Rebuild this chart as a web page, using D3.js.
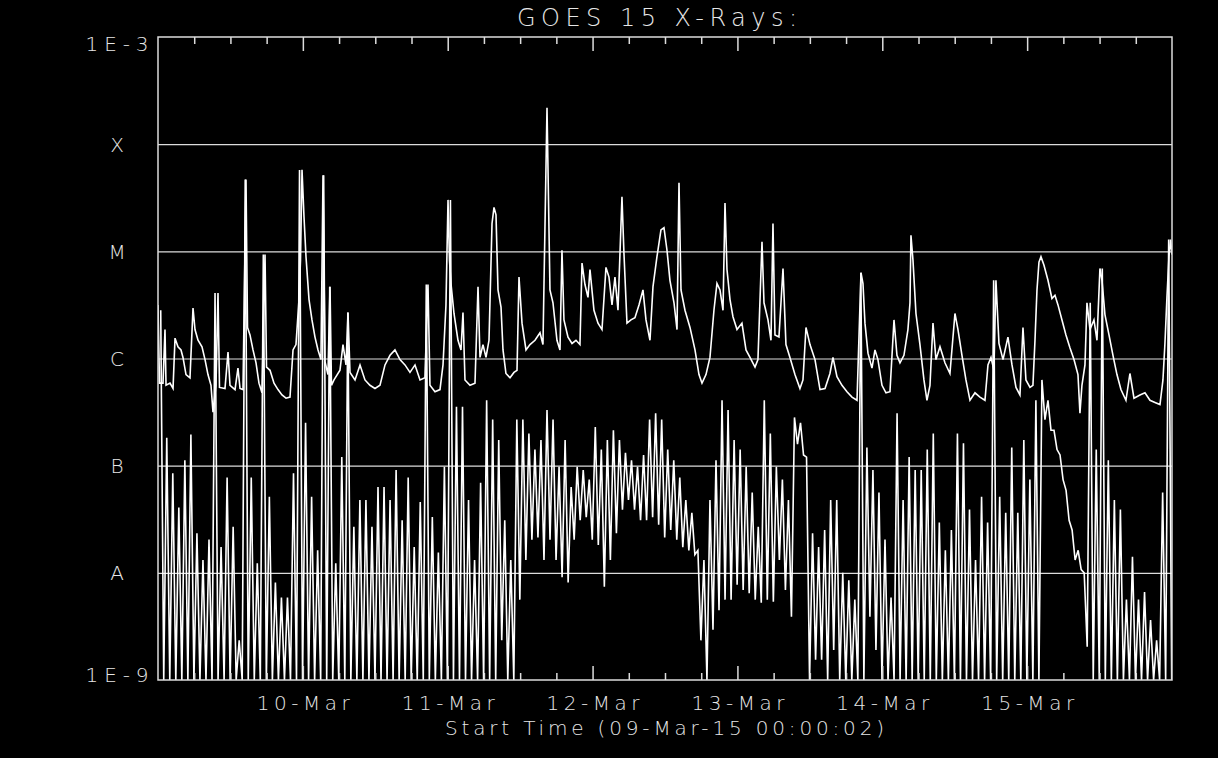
<!DOCTYPE html>
<html>
<head>
<meta charset="utf-8">
<title>GOES 15 X-Rays</title>
<script src="https://cdn.jsdelivr.net/npm/d3@7"></script>
<style>
    html, body { margin: 0; padding: 0; background: #000; }
    svg { display: block; }
    text { font-family: "DejaVu Sans", sans-serif; font-weight: 200; fill: #e6e6e6; }
</style>
</head>
<body>
<div id="chart"></div>
<script>
// Labels
const chartTitle = 'GOES 15 X-Rays:';
const xTitle = 'Start Time (09-Mar-15 00:00:02)';
const dayLabels = ['10-Mar', '11-Mar', '12-Mar', '13-Mar', '14-Mar', '15-Mar'];
const dayHours = [24, 48, 72, 96, 120, 144];
const minorHours = [6, 12, 18, 30, 36, 42, 54, 60, 66, 78, 84, 90, 102, 108, 114, 126, 132, 138, 150, 156, 162];
const fluxTicks = [1e-3, 1e-4, 1e-5, 1e-6, 1e-7, 1e-8, 1e-9];
const fluxLabels = ['1E-3', 'X', 'M', 'C', 'B', 'A', '1E-9'];

// Long channel (1-8 A): hours since start, log10 of flux in W/m^2
const longHours = [
    0, 0.25, 0.83, 1.16, 1.33, 1.99, 2.49, 2.82, 3.31, 3.81,
    4.14, 4.64, 5.30, 5.80, 6.13, 6.63, 7.29, 7.79, 8.28, 8.78,
    9.11, 9.61, 9.94, 10.19, 11.10, 11.60, 11.93, 12.76, 13.25, 13.59,
    14.08, 14.58, 14.83, 15.24, 15.74, 16.24, 16.73, 17.23, 17.73, 17.98,
    18.56, 19.22, 19.88, 20.54, 21.21, 21.87, 22.37, 22.86, 23.36, 23.61,
    23.86, 24.19, 24.52, 25.02, 25.51, 26.01, 26.51, 27.00, 27.34, 27.67,
    28.16, 28.50, 28.74, 29.16, 30.15, 30.65, 31.15, 31.48, 31.81, 32.64,
    33.47, 34.29, 35.12, 35.95, 36.78, 37.61, 38.44, 39.26, 40.09, 40.92,
    41.75, 42.58, 43.41, 44.23, 44.73, 45.06, 45.89, 46.72, 47.22, 47.71,
    48.05, 48.29, 48.54, 49.04, 49.70, 50.20, 50.53, 50.86, 51.69, 52.52,
    53.02, 53.35, 53.84, 54.34, 54.84, 55.34, 55.67, 56.00, 56.33, 56.83,
    57.16, 57.65, 58.32, 58.98, 59.48, 59.81, 60.31, 60.97, 61.63, 62.46,
    63.29, 63.78, 64.45, 64.70, 64.94, 65.44, 66.10, 66.60, 66.93, 67.26,
    67.93, 68.59, 69.25, 69.91, 70.25, 70.74, 71.24, 71.57, 72.23, 72.90,
    73.56, 74.22, 74.72, 75.22, 75.71, 76.21, 76.87, 77.20, 77.70, 78.36,
    79.02, 79.69, 80.35, 80.85, 81.51, 82.01, 82.67, 83.33, 83.83, 84.33,
    84.82, 85.49, 85.99, 86.32, 86.65, 87.31, 88.14, 88.97, 89.63, 90.13,
    90.79, 91.45, 92.11, 92.61, 93.11, 93.61, 93.94, 94.27, 94.77, 95.26,
    95.93, 96.75, 97.42, 98.08, 98.91, 99.40, 100.07, 100.40, 101.06, 101.56,
    101.89, 102.22, 102.88, 103.55, 104.04, 104.70, 105.53, 106.36, 106.86, 107.36,
    108.02, 108.85, 109.68, 110.51, 111.33, 111.83, 112.49, 113.32, 114.15, 114.98,
    115.81, 116.47, 116.80, 117.13, 117.63, 118.29, 118.79, 119.28, 119.95, 120.61,
    121.27, 121.94, 122.43, 122.93, 123.59, 124.25, 124.59, 124.75, 125.08, 125.58,
    126.24, 126.90, 127.40, 127.90, 128.40, 128.89, 129.56, 130.38, 131.21, 132.04,
    132.54, 133.20, 133.86, 134.53, 135.36, 136.18, 137.01, 137.51, 138.01, 138.50,
    138.83, 139.33, 140.00, 140.82, 141.49, 142.15, 142.81, 143.31, 143.80, 144.47,
    144.96, 145.30, 145.63, 145.96, 146.29, 146.79, 147.45, 148.11, 148.61, 149.11,
    149.77, 150.43, 151.09, 151.76, 152.42, 152.75, 153.08, 153.58, 153.91, 154.41,
    155.07, 155.57, 156.06, 156.40, 156.89, 157.56, 158.22, 158.88, 159.54, 160.37,
    161.03, 161.70, 162.69, 163.52, 164.35, 165.18, 166.01, 166.50, 166.83, 167.16,
    167.50, 167.75, 168.00
];
const longLog = [
    -5.50, -6.23, -6.23, -5.73, -6.25, -6.23, -6.28, -5.81, -5.89, -5.92,
    -5.99, -6.15, -6.18, -5.53, -5.73, -5.83, -5.89, -6.01, -6.15, -6.25,
    -6.50, -6.25, -5.39, -6.27, -6.28, -5.94, -6.25, -6.29, -6.09, -6.28,
    -6.29, -4.33, -5.71, -5.78, -5.92, -6.04, -6.23, -6.32, -5.03, -6.08,
    -6.11, -6.23, -6.29, -6.34, -6.37, -6.36, -5.92, -5.87, -5.45, -5.08,
    -4.24, -4.68, -5.05, -5.45, -5.64, -5.80, -5.92, -6.01, -4.29, -6.03,
    -6.15, -5.33, -6.25, -6.20, -6.11, -5.87, -6.06, -5.57, -6.13, -6.20,
    -6.06, -6.20, -6.25, -6.28, -6.25, -6.06, -5.97, -5.92, -6.01, -6.06,
    -6.13, -6.06, -6.20, -6.18, -5.31, -6.25, -6.31, -6.29, -6.06, -5.50,
    -4.52, -5.08, -5.30, -5.58, -5.83, -5.92, -5.57, -6.20, -6.25, -6.23,
    -5.33, -5.99, -5.87, -5.99, -5.83, -4.74, -4.59, -4.66, -5.36, -5.52,
    -5.92, -6.14, -6.18, -6.13, -6.11, -5.24, -5.67, -5.92, -5.87, -5.83,
    -5.76, -5.87, -3.66, -4.52, -5.36, -5.48, -5.83, -5.92, -4.99, -5.64,
    -5.80, -5.86, -5.83, -5.87, -5.11, -5.31, -5.43, -5.17, -5.55, -5.67,
    -5.73, -5.15, -5.24, -5.50, -5.24, -5.55, -4.49, -5.02, -5.67, -5.64,
    -5.62, -5.50, -5.36, -5.64, -5.83, -5.33, -5.05, -4.80, -4.78, -4.99,
    -5.27, -5.48, -5.73, -4.36, -5.36, -5.55, -5.71, -5.92, -6.15, -6.23,
    -6.15, -5.99, -5.55, -5.30, -5.36, -5.55, -4.55, -5.17, -5.45, -5.61,
    -5.73, -5.67, -5.92, -5.99, -6.08, -6.01, -4.91, -5.48, -5.64, -5.83,
    -4.74, -5.78, -5.80, -5.16, -5.87, -5.99, -6.15, -6.28, -6.20, -5.71,
    -5.87, -6.01, -6.29, -6.28, -6.14, -5.99, -6.17, -6.25, -6.31, -6.36,
    -6.39, -5.20, -5.30, -5.67, -5.95, -6.09, -5.92, -6.01, -6.25, -6.32,
    -6.31, -5.64, -5.97, -6.04, -5.97, -5.73, -5.48, -4.85, -5.08, -5.58,
    -5.87, -6.20, -6.39, -6.25, -5.67, -6.01, -5.89, -6.04, -6.14, -5.58,
    -5.73, -5.97, -6.20, -6.39, -6.32, -6.36, -6.39, -6.06, -5.99, -6.11,
    -5.27, -5.86, -6.01, -5.80, -6.06, -6.27, -6.34, -5.71, -6.20, -6.27,
    -6.25, -5.83, -5.36, -5.10, -5.05, -5.13, -5.27, -5.44, -5.41, -5.50,
    -5.64, -5.78, -5.90, -6.01, -6.15, -6.51, -6.25, -6.06, -5.48, -5.73,
    -5.64, -5.83, -5.16, -5.27, -5.59, -5.78, -5.97, -6.15, -6.29, -6.39,
    -6.14, -6.37, -6.34, -6.32, -6.39, -6.41, -6.43, -6.20, -5.86, -5.43,
    -5.05, -4.89, -5.03
];

// Short channel (0.5-4 A): highest and lowest log10 flux in each hour, hour 0..167
const shortHiLog = [
    -5.55, -6.74, -7.07, -7.39, -6.95, -6.71, -7.63, -7.88, -7.69, -5.39, -7.76, -7.11,
    -7.57, -8.63, -4.33, -7.11, -7.91, -5.03, -7.29, -8.09, -8.23, -8.23, -7.07, -4.24,
    -6.60, -7.29, -7.79, -4.29, -5.33, -7.91, -6.92, -5.57, -7.57, -7.32, -7.32, -7.57,
    -7.20, -7.20, -7.32, -7.04, -7.51, -7.11, -7.76, -7.34, -5.31, -7.48, -7.81, -7.01,
    -4.52, -6.45, -6.45, -7.32, -7.88, -7.16, -6.39, -6.57, -6.76, -7.51, -7.88, -6.57,
    -6.57, -6.70, -6.85, -6.76, -6.48, -6.57, -7.01, -6.76, -7.20, -7.01, -7.04, -7.13,
    -6.64, -6.85, -6.76, -6.67, -6.76, -6.88, -6.95, -7.01, -6.90, -6.57, -6.51, -6.57,
    -6.85, -6.95, -7.11, -7.32, -7.44, -7.79, -7.88, -7.32, -6.95, -6.39, -6.48, -6.76,
    -6.85, -7.01, -7.25, -7.57, -6.39, -6.70, -7.01, -7.13, -7.32, -6.55, -6.60, -6.92,
    -7.63, -7.76, -7.60, -7.32, -7.32, -8.00, -8.07, -8.25, -5.20, -6.83, -7.04, -7.25,
    -7.69, -8.23, -6.51, -7.32, -6.92, -7.04, -7.04, -6.85, -6.70, -7.53, -7.79, -7.60,
    -6.70, -6.79, -7.41, -7.88, -7.29, -7.53, -5.27, -7.29, -7.44, -6.83, -7.44, -6.76,
    -7.13, -6.39, -6.20, -6.39, -6.67, -6.90, -7.23, -7.60, -7.79, -8.00, -5.48, -6.85,
    -5.16, -6.95, -7.32, -7.41, -8.25, -7.85, -8.25, -8.18, -8.44, -8.63, -7.25, -4.89
];
const shortLoLog = [
    -9, -9, -9, -9, -9, -9, -9, -9, -9, -9, -9, -9,
    -9, -9, -9, -9, -9, -9, -9, -9, -9, -9, -9, -9,
    -9, -9, -9, -9, -9, -9, -9, -9, -9, -9, -9, -9,
    -9, -9, -9, -9, -9, -9, -9, -9, -9, -9, -9, -9,
    -9, -9, -9, -9, -9, -9, -9, -9, -8.63, -9, -9, -8.25,
    -7.88, -7.69, -7.67, -7.88, -7.69, -7.88, -8.04, -8.09, -7.69, -7.51, -7.48, -7.69,
    -7.74, -8.13, -7.88, -7.63, -7.41, -7.32, -7.41, -7.51, -7.51, -7.48, -7.55, -7.67,
    -7.60, -7.69, -7.76, -7.79, -7.83, -8.63, -9, -8.53, -8.35, -8.25, -8.25, -8.11,
    -8.16, -8.19, -8.25, -8.28, -8.25, -8.27, -7.88, -8.16, -8.41, -6.80, -6.90, -9,
    -8.81, -8.81, -9, -8.72, -9, -9, -9, -9, -9, -8.41, -8.72, -9,
    -9, -9, -9, -9, -9, -9, -9, -9, -9, -9, -9, -9,
    -9, -9, -9, -9, -9, -9, -9, -9, -9, -9, -9, -9,
    -9, -9, -6.57, -6.67, -6.85, -7.13, -7.51, -7.88, -7.97, -8.69, -9, -9,
    -9, -9, -9, -9, -9, -9, -9, -9, -9, -9, -9, -9
];

// Set up dimensions
const width = 1218;
const height = 758;
const margin = {top: 37, right: 46, bottom: 78, left: 158};
const w = width - margin.left - margin.right;
const h = height - margin.top - margin.bottom;

const svg = d3.select('#chart')
    .append('svg')
    .attr('width', width)
    .attr('height', height)
    .style('background', '#000');

const g = svg.append('g')
    .attr('transform', `translate(${margin.left},${margin.top})`);

// Scales
const x = d3.scaleLinear().domain([0, 168]).range([0, w]);
const y = d3.scaleLog().domain([1e-9, 1e-3]).range([h, 0]);

// Horizontal class lines
g.append('g')
    .attr('class', 'grid')
    .call(d3.axisLeft(y).tickValues(fluxTicks.slice(1, -1)).tickSize(-w).tickFormat(''))
    .call(s => s.select('.domain').remove())
    .selectAll('line')
    .attr('stroke', '#dcdcdc')
    .attr('stroke-width', 1.1);

// Clip the data to the plot box
g.append('clipPath').attr('id', 'plot-clip')
    .append('rect').attr('width', w).attr('height', h);

const line = d3.line()
    .x(d => x(d[0]))
    .y(d => y(Math.pow(10, d[1])));

// Short channel: zig-zag between hourly high and low
const shortPoints = [];
shortHiLog.forEach((v, i) => {
    shortPoints.push([i + 0.45, v]);
    shortPoints.push([i + 0.95, shortLoLog[i]]);
});

const plot = g.append('g').attr('clip-path', 'url(#plot-clip)');

plot.append('path')
    .datum(shortPoints)
    .attr('d', line)
    .attr('fill', 'none')
    .attr('stroke', '#fff')
    .attr('stroke-width', 1.6);

plot.append('path')
    .datum(d3.zip(longHours, longLog))
    .attr('d', line)
    .attr('fill', 'none')
    .attr('stroke', '#fff')
    .attr('stroke-width', 1.6);

// Frame
g.append('rect')
    .attr('width', w)
    .attr('height', h)
    .attr('fill', 'none')
    .attr('stroke', '#dcdcdc')
    .attr('stroke-width', 1.5);

// Ticks on top and bottom, pointing into the plot
function styleAxis(sel) {
    sel.select('.domain').remove();
    sel.selectAll('line').attr('stroke', '#dcdcdc').attr('stroke-width', 1.5);
}

g.append('g')
    .call(d3.axisTop(x).tickValues(dayHours).tickSize(-14).tickFormat(''))
    .call(styleAxis);
g.append('g')
    .call(d3.axisTop(x).tickValues(minorHours).tickSize(-7).tickFormat(''))
    .call(styleAxis);

g.append('g')
    .attr('transform', `translate(0,${h})`)
    .call(d3.axisBottom(x).tickValues(minorHours).tickSize(-7).tickFormat(''))
    .call(styleAxis);

const bottomAxis = g.append('g')
    .attr('transform', `translate(0,${h})`)
    .call(d3.axisBottom(x).tickValues(dayHours).tickSize(-14).tickFormat((d, i) => dayLabels[i]))
    .call(styleAxis);

bottomAxis.selectAll('text')
    .attr('y', 30)
    .attr('dy', 0)
    .attr('fill', '#e6e6e6')
    .style('font-family', '"DejaVu Sans", sans-serif')
    .style('font-weight', 200)
    .style('font-size', '20px')
    .attr('textLength', 93)
    .attr('lengthAdjust', 'spacing');

// Y labels: flux limits and flare classes
g.append('g')
    .selectAll('text')
    .data(fluxTicks)
    .enter()
    .append('text')
    .attr('x', -41)
    .attr('y', (d, i) => y(d) + (i === 0 ? 14 : i === fluxTicks.length - 1 ? 2 : 7.5))
    .attr('text-anchor', 'middle')
    .style('font-size', '20px')
    .each(function (d, i) {
        if (fluxLabels[i].length > 1) {
            d3.select(this).attr('textLength', 63).attr('lengthAdjust', 'spacing');
        }
    })
    .text((d, i) => fluxLabels[i]);

// Titles
svg.append('text')
    .attr('x', 657)
    .attr('y', 26)
    .attr('text-anchor', 'middle')
    .style('font-size', '24px')
    .attr('textLength', 280)
    .attr('lengthAdjust', 'spacing')
    .text(chartTitle);

svg.append('text')
    .attr('x', 664.5)
    .attr('y', 735)
    .attr('text-anchor', 'middle')
    .style('font-size', '20px')
    .attr('textLength', 439)
    .attr('lengthAdjust', 'spacing')
    .text(xTitle);
</script>
</body>
</html>
